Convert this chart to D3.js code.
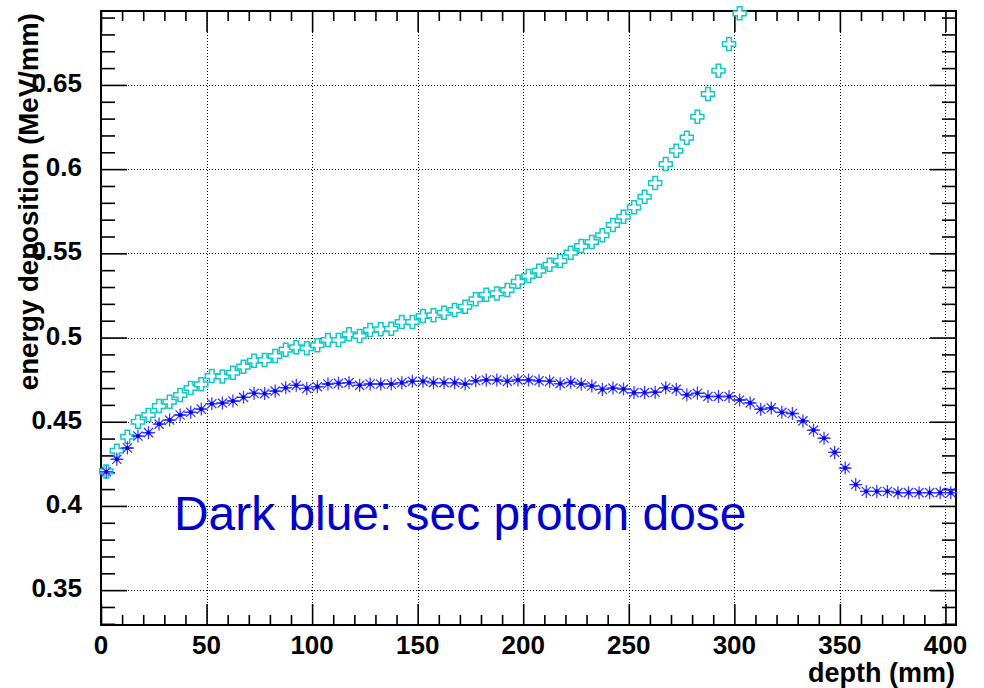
<!DOCTYPE html>
<html>
<head>
<meta charset="utf-8">
<script src="https://cdn.jsdelivr.net/npm/d3@7/dist/d3.min.js"></script>
<style>
  html, body { margin: 0; padding: 0; background: #fff; }
  svg { display: block; }
  text { font-family: "Liberation Sans", Arial, Helvetica, sans-serif; }
</style>
</head>
<body>
<svg id="chart" width="984" height="688"></svg>
<script>
// ---------------- data ----------------
const depth = [2.5, 7.5, 12.5, 17.5, 22.5, 27.5, 32.5, 37.5, 42.5, 47.5,
  52.5, 57.5, 62.5, 67.5, 72.5, 77.5, 82.5, 87.5, 92.5, 97.5,
  102.5, 107.5, 112.5, 117.5, 122.5, 127.5, 132.5, 137.5, 142.5, 147.5,
  152.5, 157.5, 162.5, 167.5, 172.5, 177.5, 182.5, 187.5, 192.5, 197.5,
  202.5, 207.5, 212.5, 217.5, 222.5, 227.5, 232.5, 237.5, 242.5, 247.5,
  252.5, 257.5, 262.5, 267.5, 272.5, 277.5, 282.5, 287.5, 292.5, 297.5,
  302.5, 307.5, 312.5, 317.5, 322.5, 327.5, 332.5, 337.5, 342.5, 347.5,
  352.5, 357.5, 362.5, 367.5, 372.5, 377.5, 382.5, 387.5, 392.5, 397.5, 402.5];

// dark blue: secondary proton dose
const secProton = [0.4203, 0.4277, 0.4344, 0.4415, 0.4435, 0.4486, 0.4510, 0.4540, 0.4556, 0.4575,
  0.4607, 0.4611, 0.4623, 0.4645, 0.4669, 0.4667, 0.4682, 0.4702, 0.4716, 0.4698,
  0.4708, 0.4724, 0.4728, 0.4732, 0.4716, 0.4724, 0.4724, 0.4724, 0.4732, 0.4740,
  0.4740, 0.4732, 0.4732, 0.4732, 0.4724, 0.4743, 0.4748, 0.4748, 0.4740, 0.4748,
  0.4748, 0.4743, 0.4740, 0.4726, 0.4734, 0.4724, 0.4712, 0.4692, 0.4700, 0.4694,
  0.4673, 0.4673, 0.4675, 0.4702, 0.4692, 0.4660, 0.4669, 0.4650, 0.4650, 0.4650,
  0.4629, 0.4612, 0.4574, 0.4582, 0.4556, 0.4549, 0.4505, 0.4450, 0.4402, 0.4318,
  0.4225, 0.4127, 0.4086, 0.4086, 0.4086, 0.4079, 0.4079, 0.4079, 0.4079, 0.4079, 0.4079];

// cyan: total (points above the frame are not drawn)
const total = [0.4205, 0.4328, 0.4411, 0.4500, 0.4540, 0.4593, 0.4619, 0.4659, 0.4700, 0.4722,
  0.4771, 0.4769, 0.4791, 0.4827, 0.4862, 0.4866, 0.4890, 0.4928, 0.4942, 0.4936,
  0.4954, 0.4985, 0.4985, 0.5019, 0.5009, 0.5045, 0.5049, 0.5052, 0.5092, 0.5092,
  0.5128, 0.5132, 0.5147, 0.5163, 0.5183, 0.5227, 0.5254, 0.5262, 0.5282, 0.5331,
  0.5365, 0.5397, 0.5432, 0.5455, 0.5504, 0.5543, 0.5567, 0.5607, 0.5668, 0.5717,
  0.5773, 0.5836, 0.5917, 0.6030, 0.6109, 0.6187, 0.6311, 0.6446, 0.6584, 0.6743, 0.6925];

const binWidth = 5;
const xMajor = [0, 50, 100, 150, 200, 250, 300, 350, 400];
const xTickLabels = ["0", "50", "100", "150", "200", "250", "300", "350", "400"];
const xMinor = [10, 20, 30, 40, 60, 70, 80, 90, 110, 120, 130, 140, 160, 170, 180, 190,
  210, 220, 230, 240, 260, 270, 280, 290, 310, 320, 330, 340, 360, 370, 380, 390];
const yMajor = [0.35, 0.40, 0.45, 0.50, 0.55, 0.60, 0.65];
const yTickLabels = ["0.35", "0.4", "0.45", "0.5", "0.55", "0.6", "0.65"];
const yMinor = [0.33, 0.34, 0.36, 0.37, 0.38, 0.39, 0.41, 0.42, 0.43, 0.44, 0.46, 0.47, 0.48, 0.49,
  0.51, 0.52, 0.53, 0.54, 0.56, 0.57, 0.58, 0.59, 0.61, 0.62, 0.63, 0.64, 0.66, 0.67, 0.68, 0.69];

const xTitle = "depth (mm)";
const yTitle = "energy deposition (MeV/mm)";
const note = "Dark blue: sec proton dose";

// ---------------- layout ----------------
const L = 101, R = 956, T = 11, B = 625;
const x = d3.scaleLinear().domain([0, 405]).range([L, R]);
const y = d3.scaleLinear().domain([0.3293, 0.6939]).range([B, T]);

const svg = d3.select("#chart");
svg.append("rect").attr("width", 984).attr("height", 688).attr("fill", "#fff");

// grid
const grid = svg.append("g").attr("stroke", "#000").attr("stroke-width", 1)
  .attr("stroke-dasharray", "1,2").attr("shape-rendering", "crispEdges");
grid.selectAll("line.gx").data(xMajor.filter(v => v > 0)).join("line")
  .attr("x1", d => Math.round(x(d)) + 0.5).attr("x2", d => Math.round(x(d)) + 0.5)
  .attr("y1", T).attr("y2", B);
grid.selectAll("line.gy").data(yMajor).join("line")
  .attr("y1", d => Math.round(y(d)) + 0.5).attr("y2", d => Math.round(y(d)) + 0.5)
  .attr("x1", L).attr("x2", R);

// axes (ticks pointing inward)
function styleAxis(g) {
  g.select(".domain").remove();
  g.selectAll(".tick line").attr("stroke", "#000").attr("stroke-width", 1.6);
  g.selectAll(".tick text").remove();
}
svg.append("g").attr("transform", `translate(0,${B})`)
  .call(d3.axisBottom(x).tickValues(xMajor).tickSize(-21).tickFormat("")).call(styleAxis);
svg.append("g").attr("transform", `translate(0,${B})`)
  .call(d3.axisBottom(x).tickValues(xMinor).tickSize(-10).tickFormat("")).call(styleAxis);
svg.append("g").attr("transform", `translate(0,${T})`)
  .call(d3.axisTop(x).tickValues(xMajor).tickSize(-21).tickFormat("")).call(styleAxis);
svg.append("g").attr("transform", `translate(0,${T})`)
  .call(d3.axisTop(x).tickValues(xMinor).tickSize(-10).tickFormat("")).call(styleAxis);
svg.append("g").attr("transform", `translate(${L},0)`)
  .call(d3.axisLeft(y).tickValues(yMajor).tickSize(-26).tickFormat("")).call(styleAxis);
svg.append("g").attr("transform", `translate(${L},0)`)
  .call(d3.axisLeft(y).tickValues(yMinor).tickSize(-14).tickFormat("")).call(styleAxis);
svg.append("g").attr("transform", `translate(${R},0)`)
  .call(d3.axisRight(y).tickValues(yMajor).tickSize(-26).tickFormat("")).call(styleAxis);
svg.append("g").attr("transform", `translate(${R},0)`)
  .call(d3.axisRight(y).tickValues(yMinor).tickSize(-14).tickFormat("")).call(styleAxis);

// frame
svg.append("rect").attr("x", L).attr("y", T).attr("width", R - L).attr("height", B - T)
  .attr("fill", "none").attr("stroke", "#000").attr("stroke-width", 2);

// tick labels
svg.append("g").selectAll("text").data(xMajor).join("text")
  .attr("x", d => x(d)).attr("y", 654)
  .attr("text-anchor", "middle").attr("font-size", 26).attr("font-weight", "bold")
  .attr("fill", "#000").text((d, i) => xTickLabels[i]);
svg.append("g").selectAll("text").data(yMajor).join("text")
  .attr("x", 82).attr("y", d => y(d) + 7)
  .attr("text-anchor", "end").attr("font-size", 26).attr("font-weight", "bold")
  .attr("fill", "#000").text((d, i) => yTickLabels[i]);

// axis titles
svg.append("text").attr("x", 955).attr("y", 682).attr("text-anchor", "end")
  .attr("font-size", 27).attr("font-weight", "bold").attr("fill", "#000").text(xTitle);
svg.append("text").attr("transform", "translate(38,13) rotate(-90)").attr("text-anchor", "end")
  .attr("font-size", 27.6).attr("font-weight", "bold").attr("fill", "#000").text(yTitle);

// ---------------- series ----------------
const yMax = y.domain()[1];
// cyan open crosses
const a = 6.5, w = 2.3;
const crossPath = `M${-w},${-a}H${w}V${-w}H${a}V${w}H${w}V${a}H${-w}V${w}H${-a}V${-w}H${-w}Z`;
const totPts = total.map((v, i) => ({ x: depth[i], v })).filter(d => d.v <= yMax);
svg.append("g").selectAll("path").data(totPts).join("path")
  .attr("transform", d => `translate(${x(d.x)},${y(d.v)})`)
  .attr("d", crossPath).attr("fill", "#fff").attr("stroke", "#10c8c8").attr("stroke-width", 1.5);

// dark blue: horizontal bin-width bars + asterisks
const secPts = secProton.map((v, i) => ({ x: depth[i], v }));
const blue = svg.append("g");
blue.selectAll("line.bar").data(secPts).join("line").attr("class", "bar")
  .attr("x1", d => x(d.x - binWidth / 2)).attr("x2", d => x(d.x + binWidth / 2))
  .attr("y1", d => y(d.v)).attr("y2", d => y(d.v))
  .attr("stroke", "#0000ff").attr("stroke-width", 1.2);
const s = 6.5, sd = 4.6;
const starPath = `M${-s},0H${s}M0,${-s}V${s}M${-sd},${-sd}L${sd},${sd}M${-sd},${sd}L${sd},${-sd}`;
blue.selectAll("path.star").data(secPts).join("path").attr("class", "star")
  .attr("transform", d => `translate(${x(d.x)},${y(d.v)})`)
  .attr("d", starPath).attr("fill", "none").attr("stroke", "#3a3aff").attr("stroke-width", 1.3);
blue.selectAll("circle").data(secPts).join("circle")
  .attr("cx", d => x(d.x)).attr("cy", d => y(d.v)).attr("r", 2.1).attr("fill", "#0000ff");

// annotation
svg.append("text").attr("x", 174).attr("y", 530).attr("font-size", 47.9)
  .attr("fill", "#0000cc").text(note);
</script>
</body>
</html>
